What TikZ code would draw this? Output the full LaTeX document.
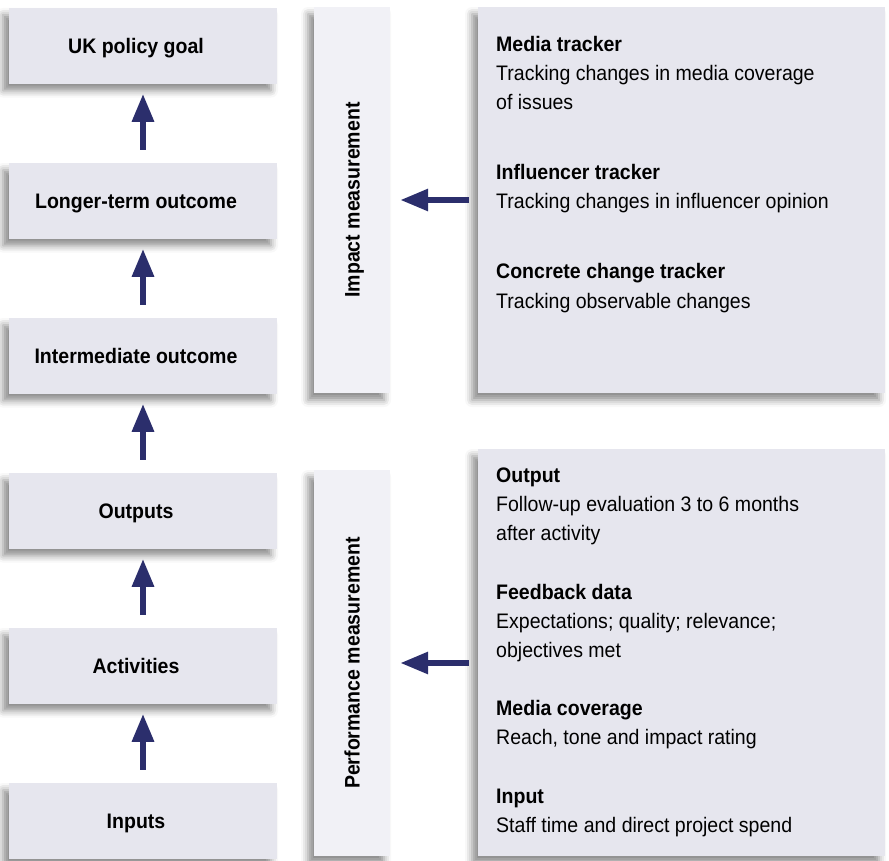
\documentclass[tikz,border=0pt]{standalone}
\usepackage{fontspec}
\setmainfont{Liberation Sans}[FakeStretch=0.93]
\usetikzlibrary{arrows.meta,positioning,shadows.blur}
\definecolor{boxgrey}{HTML}{E6E6EE}
\definecolor{bandgrey}{HTML}{F1F1F6}
\definecolor{navy}{HTML}{2B2E6C}

\begin{document}
\begin{tikzpicture}[x=1pt, y=-1pt, >={Triangle[length=28pt,width=21pt]}, node distance=79pt,
                    every node/.style={font=\fontsize{21}{29}\selectfont}]
	  \tikzstyle{softshadow}=[blur shadow={shadow xshift=-6pt,shadow yshift=-7pt,shadow blur radius=7pt,shadow opacity=45}]
	  \tikzstyle{chainbox}=[softshadow,fill=boxgrey,minimum width=268pt,minimum height=75.6pt,inner sep=0pt,
	                        text height=15pt,text depth=0pt,font=\fontsize{21}{29}\selectfont\bfseries,
	                        execute at end node={\hspace*{14pt}}]
	  \tikzstyle{measure}=[softshadow,fill=bandgrey,minimum width=76pt,minimum height=386pt,inner sep=0pt]
	  \tikzstyle{panel}=[softshadow,fill=boxgrey,minimum width=407pt,inner sep=0pt]
	  \tikzstyle{entry}=[anchor=base west,align=left,inner sep=0pt]
	  \tikzstyle{bigarrow}=[->,color=navy,line width=6pt,shorten <=13pt,shorten >=10pt]

	  \useasboundingbox (0,0) rectangle (889,861);

	  \node[chainbox] (goal) at (143,45.8) {UK policy goal};
	  \node[chainbox] (longer) [below=of goal] {Longer-term outcome};
	  \node[chainbox] (inter) [below=of longer] {Intermediate outcome};
	  \node[chainbox] (outputs) [below=of inter] {Outputs};
	  \node[chainbox] (activities) [below=of outputs] {Activities};
	  \node[chainbox] (inputs) [below=of activities] {Inputs};

	  \node[measure, label={[rotate=90,text height=15pt,text depth=0pt,font=\fontsize{21}{29}\selectfont\bfseries]center:Impact measurement}] (impact) at (352,200) {};
	  \node[measure, label={[rotate=90,text height=15pt,text depth=0pt,font=\fontsize{21}{29}\selectfont\bfseries]center:Performance measurement}] (perf) at (352,663) {};

	  \node[panel, minimum height=386pt] (rtop) at (681.5,200) {};
	  \node[panel, minimum height=407pt] (rbot) at (681.5,652.5) {};

	  \node[entry] (mtrk) at (496,110) {\textbf{Media tracker}\\Tracking changes in media coverage\\of issues};
	  \node[entry] (itrk) at (496,209) {\textbf{Influencer tracker}\\Tracking changes in influencer opinion};
	  \node[entry] (ctrk) at (496,308) {\textbf{Concrete change tracker}\\Tracking observable changes};

	  \node[entry] (pout) at (496,540) {\textbf{Output}\\Follow-up evaluation 3 to 6 months\\after activity};
	  \node[entry] (pfb) at (496,657) {\textbf{Feedback data}\\Expectations; quality; relevance;\\objectives met};
	  \node[entry] (pmc) at (496,744) {\textbf{Media coverage}\\Reach, tone and impact rating};
	  \node[entry] (pin) at (496,832) {\textbf{Input}\\Staff time and direct project spend};

	  \path[bigarrow] (inputs) edge (activities)
	  (activities) edge (outputs)
	  (outputs) edge (inter)
	  (inter) edge (longer)
	  (longer) edge (goal);
	  \path[bigarrow,shorten <=9pt] (rtop.west |- impact.east) edge (impact.east)
	  (rbot.west |- perf.east) edge (perf.east);
\end{tikzpicture}
\end{document}
